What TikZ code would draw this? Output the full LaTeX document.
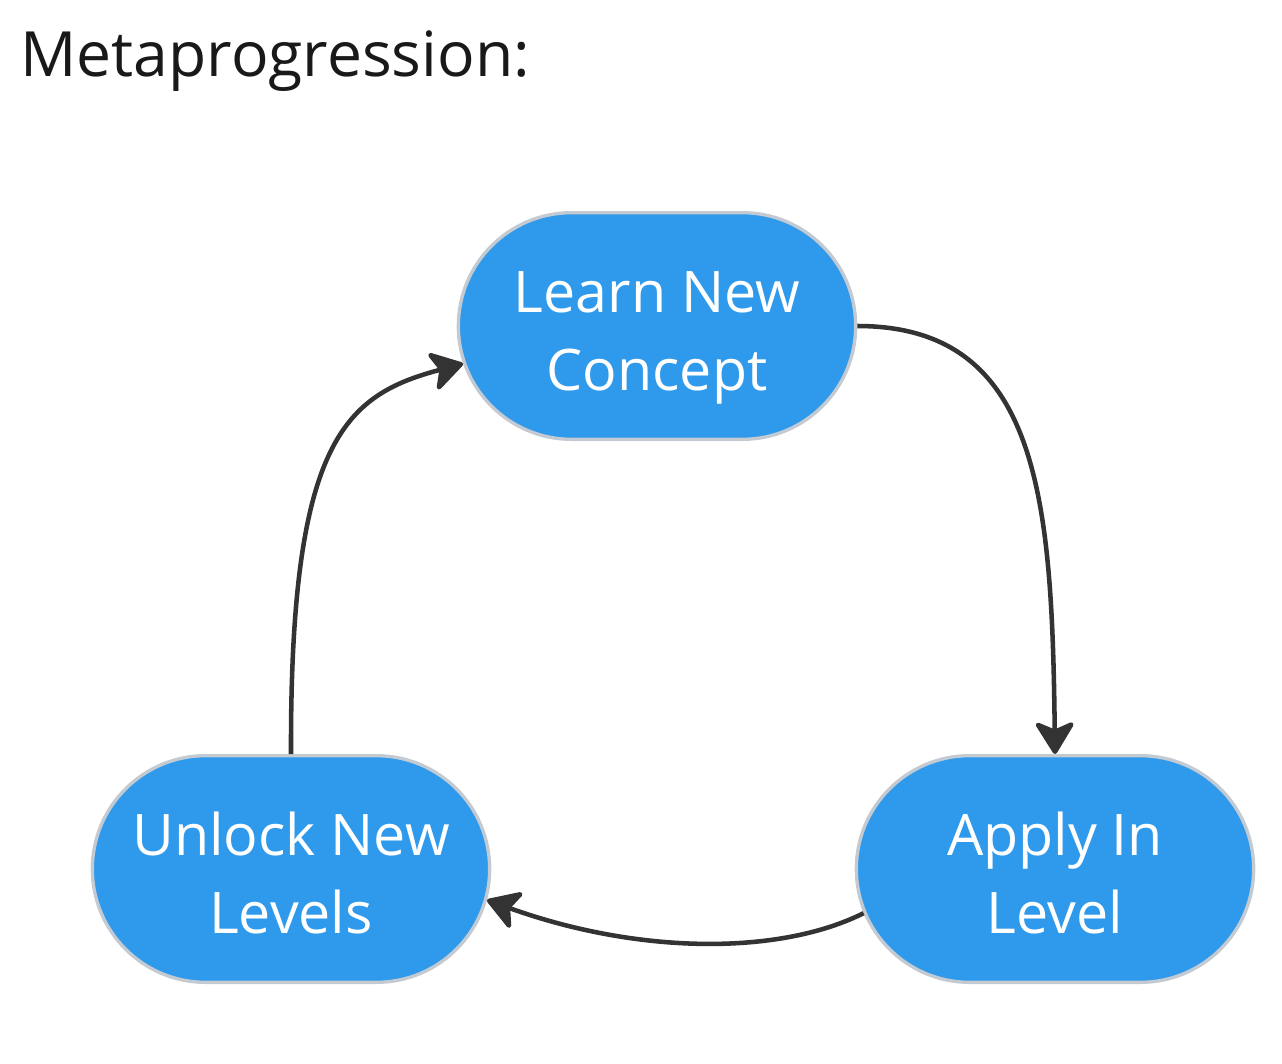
\documentclass[tikz,border=0pt]{standalone}
\usepackage{fontspec}
\setmainfont{Open Sans}
\usetikzlibrary{shapes.misc,arrows.meta}

\definecolor{stepblue}{RGB}{47,154,236}
\definecolor{stepedge}{RGB}{196,202,210}
\definecolor{flowdark}{RGB}{51,51,51}
\definecolor{titleink}{RGB}{25,25,25}

\newcommand{\toprow}{\rule{0pt}{37.5pt}}

\tikzset{every picture/.style={line width=0.75pt}}
\tikzset{
  stepnode/.style={rounded rectangle, fill=stepblue, draw=stepedge, line width=2.5pt,
    minimum width=298pt, minimum height=170pt, inner sep=0pt, align=center,
    text=white, font=\fontsize{43}{58.5}\selectfont},
  flow/.style={draw=flowdark, line width=3.4pt,
    -{Stealth[length=27pt,width=33pt,inset=7pt,round]}}
}

\begin{document}
\begin{tikzpicture}[x=0.75pt,y=0.75pt,yscale=-1,xscale=1]
\useasboundingbox (0,0) rectangle (1282,1064); %set diagram size

% Text Node
\node (title) [anchor=base west, inner sep=0pt, text=titleink, font=\fontsize{46.8}{56}\selectfont] at (20,76) {Metaprogression:};

%Shape: stadiums
\node (learn) [stepnode] at (657,326) {\toprow Learn New\\\smash{Concept}};
\node (apply) [stepnode] at (1055,869) {\toprow Apply In\\\smash{Level}};
\node (unlock) [stepnode] at (291,869) {\toprow Unlock New\\\smash{Levels}};

%Curves
\draw [flow] (learn.east) .. controls (1040,326) and (1052,500) .. (apply.north);
\draw [flow] (apply.193) .. controls (780,955) and (640,955) .. (unlock.-9);
\draw [flow] (unlock.north) .. controls (290,440) and (345,395) .. (learn.191);

\end{tikzpicture}
\end{document}
